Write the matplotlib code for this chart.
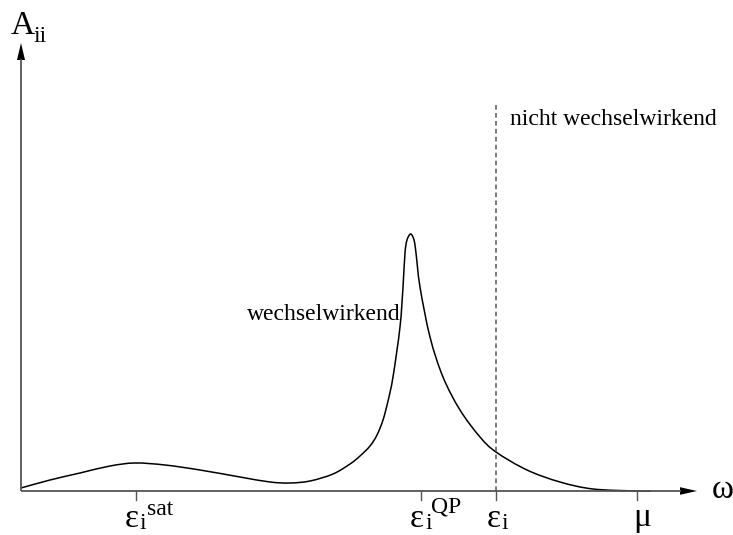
import matplotlib
matplotlib.use("Agg")
import matplotlib.pyplot as plt
from matplotlib.patches import Polygon, PathPatch
from matplotlib.path import Path

# Spectral function A_ii(omega), schematic (arbitrary units)
omega = [0, 29, 59, 89, 114, 144, 179, 219, 249, 269, 289, 312, 329, 339, 349,
         356, 362, 367, 372, 379, 382, 384, 386, 389.7, 393, 395, 399, 409,
         422, 439, 459, 475, 506, 539, 572, 616, 630]
A_ii = [3, 11, 18, 25, 28, 26, 21, 14, 9, 8, 10, 17, 27, 35, 45,
        56, 71, 90, 114, 164, 204, 238, 251, 257, 251, 238, 204, 154,
        114, 81, 54, 39, 21, 9, 2, 0, 0]

# Characteristic energies on the omega axis
tick_pos = {"sat": 115, "QP": 400, "i": 475, "mu": 616}
eps_i = tick_pos["i"]

axis_color = "#555555"
serif = "Liberation Serif"


def smooth_path(xs, ys, tension=0.5):
    """Catmull-Rom spline through the points, as cubic Bezier segments."""
    pts = list(zip(xs, ys))
    verts = [pts[0]]
    codes = [Path.MOVETO]
    n = len(pts)
    for k in range(n - 1):
        p0 = pts[k - 1] if k > 0 else pts[k]
        p1 = pts[k]
        p2 = pts[k + 1]
        p3 = pts[k + 2] if k + 2 < n else pts[k + 1]
        c1 = (p1[0] + (p2[0] - p0[0]) * tension / 3,
              p1[1] + (p2[1] - p0[1]) * tension / 3)
        c2 = (p2[0] - (p3[0] - p1[0]) * tension / 3,
              p2[1] - (p3[1] - p1[1]) * tension / 3)
        verts += [c1, c2, p2]
        codes += [Path.CURVE4] * 3
    return Path(verts, codes)


fig = plt.figure(figsize=(7.33, 5.35), dpi=100)
ax = fig.add_axes([0, 0, 1, 1])
ax.set_xlim(-21, 712)
ax.set_ylim(-44, 491)
ax.axis("off")

# Coordinate axes with arrowheads
ax.plot([0, 660], [0, 0], color=axis_color, lw=1.3, solid_capstyle="butt")
ax.plot([0, 0], [0, 432], color=axis_color, lw=1.3, solid_capstyle="butt")
ax.add_patch(Polygon([[659, -3.8], [676, 0], [659, 3.8]], closed=True,
                     color="black", lw=0))
ax.add_patch(Polygon([[-4, 431], [0, 448], [4, 431]], closed=True,
                     color="black", lw=0))

# Tick marks below the omega axis
for x in tick_pos.values():
    ax.plot([x, x], [0, -9], color=axis_color, lw=1.0)

# Non-interacting level: vertical dashed line
ax.plot([eps_i, eps_i], [0, 389], color=axis_color, lw=1.1,
        dashes=(3.0, 2.2))

# Interacting spectral function
ax.add_patch(PathPatch(smooth_path(omega, A_ii), facecolor="none",
                       edgecolor="black", lw=1.1))

# Axis labels
ax.text(-10, 457, "A", family=serif, fontsize=24, va="baseline", ha="left")
ax.text(13, 449, "ii", family=serif, fontsize=17, va="baseline", ha="left")
ax.text(691, -7, "ω", family=serif, fontsize=24, va="baseline", ha="left")

# Energy labels
ax.text(104, -36, "ε", family=serif, fontsize=24, va="baseline", ha="left")
ax.text(119, -38, "i", family=serif, fontsize=17, va="baseline", ha="left")
ax.text(126, -24, "sat", family=serif, fontsize=17, va="baseline", ha="left")

ax.text(389, -36, "ε", family=serif, fontsize=24, va="baseline", ha="left")
ax.text(404, -38, "i", family=serif, fontsize=17, va="baseline", ha="left")
ax.text(410, -22, "QP", family=serif, fontsize=17, va="baseline", ha="left")

ax.text(466, -36, "ε", family=serif, fontsize=24, va="baseline", ha="left")
ax.text(481, -38, "i", family=serif, fontsize=17, va="baseline", ha="left")

ax.text(612, -35, "μ", family=serif, fontsize=24, va="baseline", ha="left")

# Curve annotations
ax.text(226, 171, "wechselwirkend", family=serif, fontsize=17,
        va="baseline", ha="left")
ax.text(489, 366, "nicht wechselwirkend", family=serif, fontsize=17,
        va="baseline", ha="left")

fig.savefig("out.png", dpi=100)
